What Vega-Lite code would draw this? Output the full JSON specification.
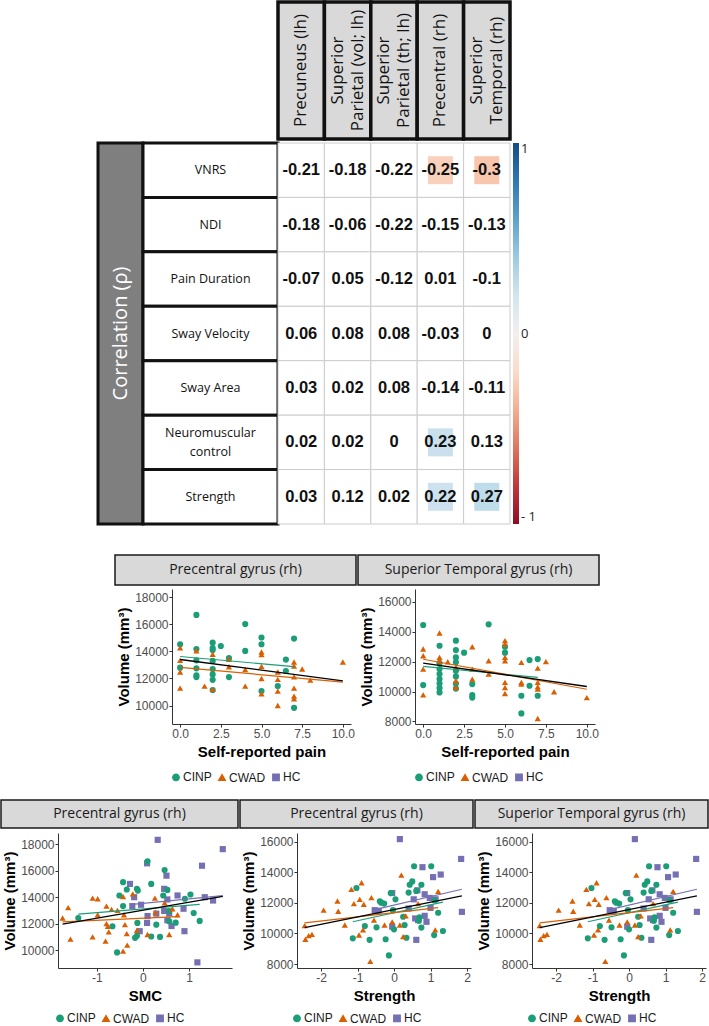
{
  "$schema": "https://vega.github.io/schema/vega-lite/v6.json",
  "padding": 0,
  "background": "white",
  "config": {
    "view": {"stroke": null},
    "locale": {"number": {"decimal": ".", "thousands": ",", "grouping": [3], "currency": ["$", ""], "minus": "-"}},
    "axis": {"labelFont": "Liberation Sans", "labelFontSize": 12, "labelColor": "#4d4d4d", "titleFont": "Liberation Sans", "titleFontSize": 15, "titleFontWeight": "bold", "titleColor": "#000000", "domainColor": "#333333", "tickColor": "#333333", "tickSize": 3, "labelPadding": 1, "grid": false},
    "axisX": {"titlePadding": 5},
    "axisY": {"titlePadding": 3},
    "legend": {"layout": {"bottom": {"anchor": "middle"}}}
  },
  "datasets": {
    "corr": [
      {"row": "VNRS", "col": "Precuneus (lh)", "r": -0.21, "sig": false},
      {"row": "VNRS", "col": "Superior\nParietal (vol; lh)", "r": -0.18, "sig": false},
      {"row": "VNRS", "col": "Superior\nParietal (th; lh)", "r": -0.22, "sig": false},
      {"row": "VNRS", "col": "Precentral (rh)", "r": -0.25, "sig": true},
      {"row": "VNRS", "col": "Superior\nTemporal (rh)", "r": -0.3, "sig": true},
      {"row": "NDI", "col": "Precuneus (lh)", "r": -0.18, "sig": false},
      {"row": "NDI", "col": "Superior\nParietal (vol; lh)", "r": -0.06, "sig": false},
      {"row": "NDI", "col": "Superior\nParietal (th; lh)", "r": -0.22, "sig": false},
      {"row": "NDI", "col": "Precentral (rh)", "r": -0.15, "sig": false},
      {"row": "NDI", "col": "Superior\nTemporal (rh)", "r": -0.13, "sig": false},
      {"row": "Pain Duration", "col": "Precuneus (lh)", "r": -0.07, "sig": false},
      {"row": "Pain Duration", "col": "Superior\nParietal (vol; lh)", "r": 0.05, "sig": false},
      {"row": "Pain Duration", "col": "Superior\nParietal (th; lh)", "r": -0.12, "sig": false},
      {"row": "Pain Duration", "col": "Precentral (rh)", "r": 0.01, "sig": false},
      {"row": "Pain Duration", "col": "Superior\nTemporal (rh)", "r": -0.1, "sig": false},
      {"row": "Sway Velocity", "col": "Precuneus (lh)", "r": 0.06, "sig": false},
      {"row": "Sway Velocity", "col": "Superior\nParietal (vol; lh)", "r": 0.08, "sig": false},
      {"row": "Sway Velocity", "col": "Superior\nParietal (th; lh)", "r": 0.08, "sig": false},
      {"row": "Sway Velocity", "col": "Precentral (rh)", "r": -0.03, "sig": false},
      {"row": "Sway Velocity", "col": "Superior\nTemporal (rh)", "r": 0, "sig": false},
      {"row": "Sway Area", "col": "Precuneus (lh)", "r": 0.03, "sig": false},
      {"row": "Sway Area", "col": "Superior\nParietal (vol; lh)", "r": 0.02, "sig": false},
      {"row": "Sway Area", "col": "Superior\nParietal (th; lh)", "r": 0.08, "sig": false},
      {"row": "Sway Area", "col": "Precentral (rh)", "r": -0.14, "sig": false},
      {"row": "Sway Area", "col": "Superior\nTemporal (rh)", "r": -0.11, "sig": false},
      {"row": "Neuromuscular\ncontrol", "col": "Precuneus (lh)", "r": 0.02, "sig": false},
      {"row": "Neuromuscular\ncontrol", "col": "Superior\nParietal (vol; lh)", "r": 0.02, "sig": false},
      {"row": "Neuromuscular\ncontrol", "col": "Superior\nParietal (th; lh)", "r": 0, "sig": false},
      {"row": "Neuromuscular\ncontrol", "col": "Precentral (rh)", "r": 0.23, "sig": true},
      {"row": "Neuromuscular\ncontrol", "col": "Superior\nTemporal (rh)", "r": 0.13, "sig": false},
      {"row": "Strength", "col": "Precuneus (lh)", "r": 0.03, "sig": false},
      {"row": "Strength", "col": "Superior\nParietal (vol; lh)", "r": 0.12, "sig": false},
      {"row": "Strength", "col": "Superior\nParietal (th; lh)", "r": 0.02, "sig": false},
      {"row": "Strength", "col": "Precentral (rh)", "r": 0.22, "sig": true},
      {"row": "Strength", "col": "Superior\nTemporal (rh)", "r": 0.27, "sig": true}
    ],
    "cols": [
      {"col": "Precuneus (lh)"},
      {"col": "Superior\nParietal (vol; lh)"},
      {"col": "Superior\nParietal (th; lh)"},
      {"col": "Precentral (rh)"},
      {"col": "Superior\nTemporal (rh)"}
    ],
    "rows": [
      {"row": "VNRS"}, {"row": "NDI"}, {"row": "Pain Duration"}, {"row": "Sway Velocity"},
      {"row": "Sway Area"}, {"row": "Neuromuscular\ncontrol"}, {"row": "Strength"}
    ],
    "pain_pre": [
      {"group": "CINP", "score": 1, "volume": 16700}, {"group": "CINP", "score": 0, "volume": 14530}, {"group": "CINP", "score": 0, "volume": 12800},
      {"group": "CINP", "score": 1, "volume": 14180}, {"group": "CINP", "score": 1, "volume": 13340}, {"group": "CINP", "score": 1, "volume": 12750},
      {"group": "CINP", "score": 1, "volume": 12230}, {"group": "CINP", "score": 1, "volume": 12100}, {"group": "CINP", "score": 2, "volume": 14650},
      {"group": "CINP", "score": 2, "volume": 14250}, {"group": "CINP", "score": 2, "volume": 14100}, {"group": "CINP", "score": 2, "volume": 13300},
      {"group": "CINP", "score": 2, "volume": 12700}, {"group": "CINP", "score": 2, "volume": 12300}, {"group": "CINP", "score": 2, "volume": 11900},
      {"group": "CINP", "score": 2, "volume": 11150}, {"group": "CINP", "score": 2.5, "volume": 14400}, {"group": "CINP", "score": 3, "volume": 13500},
      {"group": "CINP", "score": 3, "volume": 12100}, {"group": "CINP", "score": 4, "volume": 16020}, {"group": "CINP", "score": 4, "volume": 14040},
      {"group": "CINP", "score": 5, "volume": 15030}, {"group": "CINP", "score": 5, "volume": 14530}, {"group": "CINP", "score": 5, "volume": 11070},
      {"group": "CINP", "score": 6, "volume": 11440}, {"group": "CINP", "score": 6.5, "volume": 13400}, {"group": "CINP", "score": 6.5, "volume": 12550},
      {"group": "CINP", "score": 7, "volume": 14950}, {"group": "CINP", "score": 7, "volume": 9830},
      {"group": "CWAD", "score": 0, "volume": 14260}, {"group": "CWAD", "score": 0, "volume": 13340}, {"group": "CWAD", "score": 0, "volume": 12480},
      {"group": "CWAD", "score": 0, "volume": 11290}, {"group": "CWAD", "score": 1, "volume": 14050}, {"group": "CWAD", "score": 1.5, "volume": 11440},
      {"group": "CWAD", "score": 2, "volume": 13790}, {"group": "CWAD", "score": 2, "volume": 11190}, {"group": "CWAD", "score": 3, "volume": 13420},
      {"group": "CWAD", "score": 3, "volume": 12870}, {"group": "CWAD", "score": 4, "volume": 12650}, {"group": "CWAD", "score": 4, "volume": 11440},
      {"group": "CWAD", "score": 5, "volume": 13960}, {"group": "CWAD", "score": 5, "volume": 13770}, {"group": "CWAD", "score": 5, "volume": 12900},
      {"group": "CWAD", "score": 5, "volume": 12000}, {"group": "CWAD", "score": 5, "volume": 10870}, {"group": "CWAD", "score": 6, "volume": 12480},
      {"group": "CWAD", "score": 6, "volume": 11930}, {"group": "CWAD", "score": 6, "volume": 11070}, {"group": "CWAD", "score": 6, "volume": 10000},
      {"group": "CWAD", "score": 7, "volume": 13220}, {"group": "CWAD", "score": 7, "volume": 12920}, {"group": "CWAD", "score": 7, "volume": 12130},
      {"group": "CWAD", "score": 7, "volume": 11290}, {"group": "CWAD", "score": 7, "volume": 10700}, {"group": "CWAD", "score": 7, "volume": 10500},
      {"group": "CWAD", "score": 7.5, "volume": 12700}, {"group": "CWAD", "score": 8, "volume": 11880}, {"group": "CWAD", "score": 10, "volume": 13220}
    ],
    "pain_st": [
      {"group": "CINP", "score": 0, "volume": 14445}, {"group": "CINP", "score": 0, "volume": 10430}, {"group": "CINP", "score": 1, "volume": 13060},
      {"group": "CINP", "score": 1, "volume": 11900}, {"group": "CINP", "score": 1, "volume": 11500}, {"group": "CINP", "score": 1, "volume": 11170},
      {"group": "CINP", "score": 1, "volume": 10840}, {"group": "CINP", "score": 1, "volume": 10540}, {"group": "CINP", "score": 1, "volume": 10230},
      {"group": "CINP", "score": 1, "volume": 9940}, {"group": "CINP", "score": 2, "volume": 13400}, {"group": "CINP", "score": 2, "volume": 12770},
      {"group": "CINP", "score": 2, "volume": 12280}, {"group": "CINP", "score": 2, "volume": 11950}, {"group": "CINP", "score": 2, "volume": 11390},
      {"group": "CINP", "score": 2, "volume": 11010}, {"group": "CINP", "score": 2, "volume": 10540}, {"group": "CINP", "score": 2, "volume": 10200},
      {"group": "CINP", "score": 2.5, "volume": 12600}, {"group": "CINP", "score": 3, "volume": 10500}, {"group": "CINP", "score": 3, "volume": 9760},
      {"group": "CINP", "score": 3, "volume": 9600}, {"group": "CINP", "score": 4, "volume": 14490}, {"group": "CINP", "score": 5, "volume": 13000},
      {"group": "CINP", "score": 5, "volume": 12600}, {"group": "CINP", "score": 6, "volume": 9720}, {"group": "CINP", "score": 6, "volume": 8540},
      {"group": "CINP", "score": 6.5, "volume": 12100}, {"group": "CINP", "score": 6.5, "volume": 10390}, {"group": "CINP", "score": 7, "volume": 12170},
      {"group": "CINP", "score": 7, "volume": 9720},
      {"group": "CWAD", "score": 0, "volume": 12840}, {"group": "CWAD", "score": 0, "volume": 12390}, {"group": "CWAD", "score": 0, "volume": 11500},
      {"group": "CWAD", "score": 0, "volume": 9780}, {"group": "CWAD", "score": 1, "volume": 13910}, {"group": "CWAD", "score": 1, "volume": 12280},
      {"group": "CWAD", "score": 1, "volume": 12060}, {"group": "CWAD", "score": 1.5, "volume": 11990}, {"group": "CWAD", "score": 2, "volume": 11610},
      {"group": "CWAD", "score": 2, "volume": 10720}, {"group": "CWAD", "score": 2, "volume": 10270}, {"group": "CWAD", "score": 3, "volume": 12990},
      {"group": "CWAD", "score": 3, "volume": 11500}, {"group": "CWAD", "score": 3, "volume": 10830}, {"group": "CWAD", "score": 4, "volume": 12060},
      {"group": "CWAD", "score": 4, "volume": 11170}, {"group": "CWAD", "score": 5, "volume": 13400}, {"group": "CWAD", "score": 5, "volume": 13170},
      {"group": "CWAD", "score": 5, "volume": 12280}, {"group": "CWAD", "score": 5, "volume": 12060}, {"group": "CWAD", "score": 5, "volume": 10610},
      {"group": "CWAD", "score": 5, "volume": 10270}, {"group": "CWAD", "score": 5, "volume": 9870}, {"group": "CWAD", "score": 6, "volume": 11950},
      {"group": "CWAD", "score": 6, "volume": 10610}, {"group": "CWAD", "score": 6, "volume": 10500}, {"group": "CWAD", "score": 7, "volume": 11570},
      {"group": "CWAD", "score": 7, "volume": 10610}, {"group": "CWAD", "score": 7, "volume": 10320}, {"group": "CWAD", "score": 7, "volume": 10160},
      {"group": "CWAD", "score": 7, "volume": 8200}, {"group": "CWAD", "score": 7.5, "volume": 12000}, {"group": "CWAD", "score": 8, "volume": 9990},
      {"group": "CWAD", "score": 10, "volume": 9600}
    ],
    "smc_pre": [
      {"group": "HC", "score": 0.32, "volume": 18330}, {"group": "HC", "score": 1.73, "volume": 17630}, {"group": "HC", "score": 0.09, "volume": 16560},
      {"group": "HC", "score": 0.51, "volume": 15630}, {"group": "HC", "score": 1.28, "volume": 16380}, {"group": "HC", "score": -0.28, "volume": 15010},
      {"group": "HC", "score": -0.19, "volume": 14010}, {"group": "HC", "score": 0.46, "volume": 14640}, {"group": "HC", "score": 0.53, "volume": 13840},
      {"group": "HC", "score": 0.75, "volume": 14140}, {"group": "HC", "score": 1.34, "volume": 14010}, {"group": "HC", "score": 1.52, "volume": 13760},
      {"group": "HC", "score": -0.23, "volume": 13340}, {"group": "HC", "score": -0.04, "volume": 13440}, {"group": "HC", "score": 0.1, "volume": 12590},
      {"group": "HC", "score": 0.09, "volume": 12070}, {"group": "HC", "score": 0.29, "volume": 12770}, {"group": "HC", "score": 0.46, "volume": 12970},
      {"group": "HC", "score": 0.57, "volume": 12770}, {"group": "HC", "score": 0.53, "volume": 12270}, {"group": "HC", "score": 0.62, "volume": 11840},
      {"group": "HC", "score": 0.88, "volume": 13140}, {"group": "HC", "score": 0.9, "volume": 11450}, {"group": "HC", "score": -0.07, "volume": 11450},
      {"group": "HC", "score": 1.18, "volume": 9100},
      {"group": "CINP", "score": -1.4, "volume": 12440}, {"group": "CINP", "score": -0.66, "volume": 11820}, {"group": "CINP", "score": -0.56, "volume": 9850},
      {"group": "CINP", "score": -0.43, "volume": 15140}, {"group": "CINP", "score": -0.35, "volume": 14590}, {"group": "CINP", "score": -0.51, "volume": 14140},
      {"group": "CINP", "score": -0.43, "volume": 13340}, {"group": "CINP", "score": -0.13, "volume": 14640}, {"group": "CINP", "score": -0.11, "volume": 14510},
      {"group": "CINP", "score": -0.17, "volume": 10950}, {"group": "CINP", "score": -0.13, "volume": 11100}, {"group": "CINP", "score": 0.1, "volume": 16710},
      {"group": "CINP", "score": 0.18, "volume": 15010}, {"group": "CINP", "score": -0.12, "volume": 12070}, {"group": "CINP", "score": 0.18, "volume": 11050},
      {"group": "CINP", "score": 0.29, "volume": 11940}, {"group": "CINP", "score": 0.37, "volume": 11020}, {"group": "CINP", "score": 0.47, "volume": 16060},
      {"group": "CINP", "score": 0.53, "volume": 14560}, {"group": "CINP", "score": 0.44, "volume": 14140}, {"group": "CINP", "score": 0.57, "volume": 12970},
      {"group": "CINP", "score": 0.57, "volume": 12190}, {"group": "CINP", "score": 0.71, "volume": 12090}, {"group": "CINP", "score": 0.91, "volume": 13890},
      {"group": "CINP", "score": 1.03, "volume": 14210}, {"group": "CINP", "score": 1.1, "volume": 12820}, {"group": "CINP", "score": 1.23, "volume": 12220},
      {"group": "CWAD", "score": -1.74, "volume": 12440}, {"group": "CWAD", "score": -1.62, "volume": 13220}, {"group": "CWAD", "score": -1.57, "volume": 10850},
      {"group": "CWAD", "score": -1.09, "volume": 13940}, {"group": "CWAD", "score": -0.98, "volume": 13890}, {"group": "CWAD", "score": -1.09, "volume": 11020},
      {"group": "CWAD", "score": -0.98, "volume": 12690}, {"group": "CWAD", "score": -0.81, "volume": 10700}, {"group": "CWAD", "score": -0.79, "volume": 13340},
      {"group": "CWAD", "score": -0.68, "volume": 13090}, {"group": "CWAD", "score": -0.79, "volume": 12020}, {"group": "CWAD", "score": -0.76, "volume": 11820},
      {"group": "CWAD", "score": -0.74, "volume": 11400}, {"group": "CWAD", "score": -0.55, "volume": 13020}, {"group": "CWAD", "score": -0.43, "volume": 14060},
      {"group": "CWAD", "score": -0.41, "volume": 12690}, {"group": "CWAD", "score": -0.39, "volume": 11940}, {"group": "CWAD", "score": -0.35, "volume": 11270},
      {"group": "CWAD", "score": -0.34, "volume": 10400}, {"group": "CWAD", "score": -0.43, "volume": 9950}, {"group": "CWAD", "score": -0.22, "volume": 14260},
      {"group": "CWAD", "score": -0.13, "volume": 11520}, {"group": "CWAD", "score": 0.1, "volume": 11200}, {"group": "CWAD", "score": 0.26, "volume": 13940},
      {"group": "CWAD", "score": 0.27, "volume": 12890}, {"group": "CWAD", "score": 0.47, "volume": 13590}, {"group": "CWAD", "score": 0.57, "volume": 11200},
      {"group": "CWAD", "score": 0.64, "volume": 13140}, {"group": "CWAD", "score": 0.75, "volume": 12690}
    ],
    "str_st": [
      {"group": "HC", "score": 0.16, "volume": 16165}, {"group": "HC", "score": 1.84, "volume": 14870}, {"group": "HC", "score": 0.78, "volume": 14330},
      {"group": "HC", "score": 1.28, "volume": 13850}, {"group": "HC", "score": 1.07, "volume": 13680}, {"group": "HC", "score": 0.64, "volume": 12820},
      {"group": "HC", "score": -0.05, "volume": 12640}, {"group": "HC", "score": 0.84, "volume": 12560}, {"group": "HC", "score": 0.98, "volume": 12320},
      {"group": "HC", "score": 0.54, "volume": 12230}, {"group": "HC", "score": 1.14, "volume": 12230}, {"group": "HC", "score": -0.53, "volume": 11520},
      {"group": "HC", "score": -0.42, "volume": 11480}, {"group": "HC", "score": 0.4, "volume": 11630}, {"group": "HC", "score": 1.0, "volume": 11670},
      {"group": "HC", "score": 1.86, "volume": 11410}, {"group": "HC", "score": -0.05, "volume": 10440}, {"group": "HC", "score": 0.58, "volume": 10980},
      {"group": "HC", "score": 0.84, "volume": 11150}, {"group": "HC", "score": 0.89, "volume": 10760}, {"group": "HC", "score": 0.66, "volume": 10870},
      {"group": "HC", "score": 0.61, "volume": 9580},
      {"group": "CINP", "score": -1.03, "volume": 12970}, {"group": "CINP", "score": -1.13, "volume": 9680}, {"group": "CINP", "score": -0.8, "volume": 10480},
      {"group": "CINP", "score": -0.67, "volume": 9580}, {"group": "CINP", "score": -0.48, "volume": 10400}, {"group": "CINP", "score": -0.39, "volume": 12100},
      {"group": "CINP", "score": -0.35, "volume": 12010}, {"group": "CINP", "score": -0.27, "volume": 11950}, {"group": "CINP", "score": -0.23, "volume": 9620},
      {"group": "CINP", "score": -0.14, "volume": 8560}, {"group": "CINP", "score": -0.09, "volume": 12640}, {"group": "CINP", "score": -0.03, "volume": 11520},
      {"group": "CINP", "score": 0.04, "volume": 12230}, {"group": "CINP", "score": 0.0, "volume": 10270}, {"group": "CINP", "score": 0.25, "volume": 11090},
      {"group": "CINP", "score": 0.29, "volume": 10550}, {"group": "CINP", "score": 0.34, "volume": 9720}, {"group": "CINP", "score": 0.4, "volume": 12670},
      {"group": "CINP", "score": 0.43, "volume": 13180}, {"group": "CINP", "score": 0.5, "volume": 13400}, {"group": "CINP", "score": 0.55, "volume": 14390},
      {"group": "CINP", "score": 0.61, "volume": 12780}, {"group": "CINP", "score": 0.7, "volume": 11060}, {"group": "CINP", "score": 0.68, "volume": 10830},
      {"group": "CINP", "score": 0.75, "volume": 10380}, {"group": "CINP", "score": 0.75, "volume": 13180}, {"group": "CINP", "score": 1.02, "volume": 14390},
      {"group": "CINP", "score": 1.11, "volume": 12170}, {"group": "CINP", "score": 1.21, "volume": 11350}, {"group": "CINP", "score": 1.1, "volume": 9890},
      {"group": "CINP", "score": 1.34, "volume": 10160},
      {"group": "CWAD", "score": -2.45, "volume": 10510}, {"group": "CWAD", "score": -2.43, "volume": 9620}, {"group": "CWAD", "score": -2.34, "volume": 9860},
      {"group": "CWAD", "score": -2.25, "volume": 9940}, {"group": "CWAD", "score": -1.93, "volume": 11520}, {"group": "CWAD", "score": -1.55, "volume": 12120},
      {"group": "CWAD", "score": -1.53, "volume": 11450}, {"group": "CWAD", "score": -1.35, "volume": 10550}, {"group": "CWAD", "score": -1.17, "volume": 12880},
      {"group": "CWAD", "score": -1.1, "volume": 11950}, {"group": "CWAD", "score": -0.94, "volume": 12230}, {"group": "CWAD", "score": -0.89, "volume": 13310},
      {"group": "CWAD", "score": -0.83, "volume": 11910}, {"group": "CWAD", "score": -0.96, "volume": 9900}, {"group": "CWAD", "score": -0.85, "volume": 10230},
      {"group": "CWAD", "score": -0.62, "volume": 12340}, {"group": "CWAD", "score": -0.65, "volume": 8170}, {"group": "CWAD", "score": -0.55, "volume": 10870},
      {"group": "CWAD", "score": -0.26, "volume": 10550}, {"group": "CWAD", "score": -0.05, "volume": 10760}, {"group": "CWAD", "score": 0.16, "volume": 10550},
      {"group": "CWAD", "score": 0.2, "volume": 13810}, {"group": "CWAD", "score": 0.25, "volume": 9790}, {"group": "CWAD", "score": 0.32, "volume": 11150},
      {"group": "CWAD", "score": 0.66, "volume": 11950}, {"group": "CWAD", "score": 1.21, "volume": 12750}, {"group": "CWAD", "score": 1.13, "volume": 10230}
    ]
  },
  "resolve": {"scale": {"color": "independent", "shape": "independent", "stroke": "independent"}, "legend": {"color": "independent", "shape": "independent"}},
  "spacing": 28,
  "vconcat": [
    {
      "spacing": 0,
      "resolve": {"scale": {"color": "independent"}, "legend": {"color": "independent"}},
      "vconcat": [
        {
          "spacing": 0,
          "bounds": "flush",
          "hconcat": [
            {"width": 277, "height": 10, "data": {"values": []}, "mark": {"type": "rect", "opacity": 0}, "encoding": {}},
            {
              "width": 232, "height": 137,
              "data": {"name": "cols"},
              "encoding": {"x": {"field": "col", "type": "nominal", "sort": null, "scale": {"paddingInner": 0, "paddingOuter": 0}, "axis": null}},
              "layer": [
                {"mark": {"type": "rect", "fill": "#d9d9d9", "stroke": "#111111", "strokeWidth": 3.5}},
                {"transform": [{"filter": "indexof(datum.col, '\\n') < 0"}], "mark": {"type": "text", "angle": 270, "font": "Open Sans", "fontSize": 17, "color": "#111111", "align": "center", "baseline": "middle"}, "encoding": {"text": {"field": "col"}}},
                {"transform": [{"filter": "indexof(datum.col, '\\n') >= 0"}], "mark": {"type": "text", "angle": 270, "font": "Open Sans", "fontSize": 17, "color": "#111111", "lineBreak": "\n", "lineHeight": 20, "align": "center", "baseline": "middle", "dy": -10}, "encoding": {"text": {"field": "col"}}}
              ]
            }
          ]
        },
        {
          "spacing": 0,
          "bounds": "flush",
          "resolve": {"scale": {"color": "independent"}, "legend": {"color": "independent"}},
          "hconcat": [
            {"width": 97, "height": 10, "data": {"values": []}, "mark": {"type": "rect", "opacity": 0}, "encoding": {}},
            {
              "width": 45, "height": 381,
              "data": {"values": [{"label": "Correlation (ρ)"}]},
              "layer": [
                {"mark": {"type": "rect", "fill": "#7f7f7f", "stroke": "#111111", "strokeWidth": 3}, "encoding": {}},
                {"mark": {"type": "text", "angle": 270, "font": "Open Sans", "fontSize": 20, "color": "white", "align": "center", "baseline": "middle"}, "encoding": {"text": {"field": "label"}}}
              ]
            },
            {
              "width": 135, "height": 381,
              "data": {"name": "rows"},
              "encoding": {"y": {"field": "row", "type": "nominal", "sort": null, "scale": {"paddingInner": 0, "paddingOuter": 0}, "axis": null}},
              "layer": [
                {"mark": {"type": "rect", "fill": "white", "stroke": "#111111", "strokeWidth": 3}},
                {"transform": [{"filter": "indexof(datum.row, '\\n') < 0"}], "mark": {"type": "text", "font": "Open Sans", "fontSize": 12.5, "color": "#111111", "align": "center", "baseline": "middle"}, "encoding": {"text": {"field": "row"}}},
                {"transform": [{"filter": "indexof(datum.row, '\\n') >= 0"}], "mark": {"type": "text", "font": "Open Sans", "fontSize": 12.5, "color": "#111111", "lineBreak": "\n", "lineHeight": 19, "align": "center", "baseline": "middle", "dy": -9.5}, "encoding": {"text": {"field": "row"}}}
              ]
            },
            {
              "width": 232, "height": 381,
              "data": {"name": "corr"},
              "encoding": {
                "x": {"field": "col", "type": "nominal", "sort": null, "scale": {"paddingInner": 0, "paddingOuter": 0}, "axis": null},
                "y": {"field": "row", "type": "nominal", "sort": null, "scale": {"paddingInner": 0, "paddingOuter": 0}, "axis": null}
              },
              "layer": [
                {"mark": {"type": "rect", "fill": "white", "stroke": "#cccccc", "strokeWidth": 1}},
                {
                  "transform": [{"filter": "datum.sig"}],
                  "mark": {"type": "rect", "width": 25, "height": 28},
                  "encoding": {
                    "color": {
                      "field": "r", "type": "quantitative",
                      "scale": {"scheme": "redblue", "domain": [-1, 1]},
                      "legend": {"orient": "right", "direction": "vertical", "title": null, "gradientLength": 381, "gradientThickness": 6, "values": [-1, 0, 1], "labelExpr": "datum.value < 0 ? '- 1' : (datum.value > 0 ? '1' : '0')", "labelFont": "Open Sans", "labelFontSize": 13, "labelColor": "#222222", "offset": 3, "padding": 0, "gradientStrokeWidth": 0}
                    }
                  }
                },
                {"mark": {"type": "text", "font": "Liberation Sans", "fontSize": 16.5, "fontWeight": "bold", "color": "#111111"}, "encoding": {"text": {"field": "r", "type": "quantitative", "format": ".2~f"}}}
              ]
            }
          ]
        }
      ]
    },
    {
      "spacing": 15,
      "resolve": {"scale": {"color": "independent", "shape": "independent", "stroke": "independent"}, "legend": {"color": "independent", "shape": "independent"}},
      "vconcat": [
        {
          "spacing": 0,
          "resolve": {"scale": {"color": "independent", "shape": "independent", "stroke": "independent"}, "legend": {"color": "independent", "shape": "independent"}},
          "hconcat": [
            {"width": 113, "height": 10, "data": {"values": []}, "mark": {"type": "rect", "opacity": 0}, "encoding": {}},
            {
              "spacing": 3,
              "vconcat": [
                {"width": 241, "height": 30, "data": {"values": [{"panel": "Precentral gyrus (rh)"}]}, "layer": [
                  {"mark": {"type": "rect", "fill": "#d9d9d9", "stroke": "#1a1a1a", "strokeWidth": 1.5}, "encoding": {}},
                  {"mark": {"type": "text", "font": "Open Sans", "fontSize": 14, "color": "#1a1a1a"}, "encoding": {"text": {"field": "panel"}}}
                ]},
                {"spacing": 0, "hconcat": [
                  {"width": 1, "height": 1, "data": {"values": []}, "mark": {"type": "rect", "opacity": 0}, "encoding": {}},
                  {
                    "width": 179, "height": 135,
                    "data": {"name": "pain_pre"},
                    "encoding": {
                      "x": {"field": "score", "type": "quantitative", "title": "Self-reported pain", "scale": {"domain": [-0.5, 10.5], "nice": false, "zero": false}, "axis": {"values": [0, 2.5, 5, 7.5, 10], "format": ".1f"}},
                      "y": {"field": "volume", "type": "quantitative", "title": "Volume (mm³)", "scale": {"domain": [8633, 18617], "nice": false, "zero": false}, "axis": {"values": [10000, 12000, 14000, 16000, 18000], "format": "d"}}
                    },
                    "layer": [
                      {"mark": {"type": "point", "filled": true, "opacity": 1, "size": 38}, "encoding": {
                        "color": {"field": "group", "type": "nominal", "scale": {"domain": ["CINP", "CWAD", "HC"], "range": ["#1b9e77", "#d95f02", "#7570b3"]}, "legend": {"orient": "bottom", "direction": "horizontal", "title": null, "labelFont": "Liberation Sans", "labelFontSize": 12, "labelColor": "#1a1a1a", "symbolSize": 40, "columnPadding": 3, "labelOffset": 1, "offset": 12, "padding": 0}},
                        "shape": {"field": "group", "type": "nominal", "scale": {"domain": ["CINP", "CWAD", "HC"], "range": ["circle", "triangle-up", "square"]}, "legend": {"orient": "bottom", "direction": "horizontal", "title": null, "labelFont": "Liberation Sans", "labelFontSize": 12, "labelColor": "#1a1a1a", "symbolSize": 40, "columnPadding": 3, "labelOffset": 1, "offset": 12, "padding": 0}}
                      }},
                      {"transform": [{"regression": "volume", "on": "score", "groupby": ["group"]}], "mark": {"type": "line", "strokeWidth": 1.2}, "encoding": {
                        "stroke": {"field": "group", "type": "nominal", "scale": {"domain": ["CINP", "CWAD", "HC"], "range": ["#1b9e77", "#d95f02", "#7570b3"]}, "legend": null}
                      }},
                      {"transform": [{"regression": "volume", "on": "score"}], "mark": {"type": "line", "strokeWidth": 1.3, "color": "black"}, "encoding": {}}
                    ]
                  }
                ]}
              ]
            },
            {
              "spacing": 3,
              "vconcat": [
                {"width": 241, "height": 30, "data": {"values": [{"panel": "Superior Temporal gyrus (rh)"}]}, "layer": [
                  {"mark": {"type": "rect", "fill": "#d9d9d9", "stroke": "#1a1a1a", "strokeWidth": 1.5}, "encoding": {}},
                  {"mark": {"type": "text", "font": "Open Sans", "fontSize": 14, "color": "#1a1a1a"}, "encoding": {"text": {"field": "panel"}}}
                ]},
                {"spacing": 0, "hconcat": [
                  {"width": 1, "height": 1, "data": {"values": []}, "mark": {"type": "rect", "opacity": 0}, "encoding": {}},
                  {
                    "width": 180, "height": 135,
                    "data": {"name": "pain_st"},
                    "encoding": {
                      "x": {"field": "score", "type": "quantitative", "title": "Self-reported pain", "scale": {"domain": [-0.5, 10.5], "nice": false, "zero": false}, "axis": {"values": [0, 2.5, 5, 7.5, 10], "format": ".1f"}},
                      "y": {"field": "volume", "type": "quantitative", "title": "Volume (mm³)", "scale": {"domain": [7833, 16850], "nice": false, "zero": false}, "axis": {"values": [8000, 10000, 12000, 14000, 16000], "format": "d"}}
                    },
                    "layer": [
                      {"mark": {"type": "point", "filled": true, "opacity": 1, "size": 38}, "encoding": {
                        "color": {"field": "group", "type": "nominal", "scale": {"domain": ["CINP", "CWAD", "HC"], "range": ["#1b9e77", "#d95f02", "#7570b3"]}, "legend": {"orient": "bottom", "direction": "horizontal", "title": null, "labelFont": "Liberation Sans", "labelFontSize": 12, "labelColor": "#1a1a1a", "symbolSize": 40, "columnPadding": 3, "labelOffset": 1, "offset": 12, "padding": 0}},
                        "shape": {"field": "group", "type": "nominal", "scale": {"domain": ["CINP", "CWAD", "HC"], "range": ["circle", "triangle-up", "square"]}, "legend": {"orient": "bottom", "direction": "horizontal", "title": null, "labelFont": "Liberation Sans", "labelFontSize": 12, "labelColor": "#1a1a1a", "symbolSize": 40, "columnPadding": 3, "labelOffset": 1, "offset": 12, "padding": 0}}
                      }},
                      {"transform": [{"regression": "volume", "on": "score", "groupby": ["group"]}], "mark": {"type": "line", "strokeWidth": 1.2}, "encoding": {
                        "stroke": {"field": "group", "type": "nominal", "scale": {"domain": ["CINP", "CWAD", "HC"], "range": ["#1b9e77", "#d95f02", "#7570b3"]}, "legend": null}
                      }},
                      {"transform": [{"regression": "volume", "on": "score"}], "mark": {"type": "line", "strokeWidth": 1.3, "color": "black"}, "encoding": {}}
                    ]
                  }
                ]}
              ]
            }
          ]
        },
        {
          "spacing": 0,
          "resolve": {"scale": {"color": "independent", "shape": "independent", "stroke": "independent"}, "legend": {"color": "independent", "shape": "independent"}},
          "hconcat": [
            {
              "spacing": 4,
              "vconcat": [
                {"width": 237, "height": 28, "data": {"values": [{"panel": "Precentral gyrus (rh)"}]}, "layer": [
                  {"mark": {"type": "rect", "fill": "#d9d9d9", "stroke": "#1a1a1a", "strokeWidth": 1.5}, "encoding": {}},
                  {"mark": {"type": "text", "font": "Open Sans", "fontSize": 14, "color": "#1a1a1a"}, "encoding": {"text": {"field": "panel"}}}
                ]},
                {"spacing": 0, "hconcat": [
                  {"width": 1, "height": 1, "data": {"values": []}, "mark": {"type": "rect", "opacity": 0}, "encoding": {}},
                  {
                    "width": 174, "height": 135,
                    "data": {"name": "smc_pre"},
                    "encoding": {
                      "x": {"field": "score", "type": "quantitative", "title": "SMC", "scale": {"domain": [-1.84, 1.93], "nice": false, "zero": false}, "axis": {"values": [-1, 0, 1], "format": "d"}},
                      "y": {"field": "volume", "type": "quantitative", "title": "Volume (mm³)", "scale": {"domain": [8676, 18845], "nice": false, "zero": false}, "axis": {"values": [10000, 12000, 14000, 16000, 18000], "format": "d"}}
                    },
                    "layer": [
                      {"mark": {"type": "point", "filled": true, "opacity": 1, "size": 38}, "encoding": {
                        "color": {"field": "group", "type": "nominal", "scale": {"domain": ["CINP", "CWAD", "HC"], "range": ["#1b9e77", "#d95f02", "#7570b3"]}, "legend": {"orient": "bottom", "direction": "horizontal", "title": null, "labelFont": "Liberation Sans", "labelFontSize": 12, "labelColor": "#1a1a1a", "symbolSize": 40, "columnPadding": 3, "labelOffset": 1, "offset": 9, "padding": 0}},
                        "shape": {"field": "group", "type": "nominal", "scale": {"domain": ["CINP", "CWAD", "HC"], "range": ["circle", "triangle-up", "square"]}, "legend": {"orient": "bottom", "direction": "horizontal", "title": null, "labelFont": "Liberation Sans", "labelFontSize": 12, "labelColor": "#1a1a1a", "symbolSize": 40, "columnPadding": 3, "labelOffset": 1, "offset": 9, "padding": 0}}
                      }},
                      {"transform": [{"regression": "volume", "on": "score", "groupby": ["group"]}], "mark": {"type": "line", "strokeWidth": 1.2}, "encoding": {
                        "stroke": {"field": "group", "type": "nominal", "scale": {"domain": ["CINP", "CWAD", "HC"], "range": ["#1b9e77", "#d95f02", "#7570b3"]}, "legend": null}
                      }},
                      {"transform": [{"regression": "volume", "on": "score"}], "mark": {"type": "line", "strokeWidth": 1.3, "color": "black"}, "encoding": {}}
                    ]
                  }
                ]}
              ]
            },
            {
              "spacing": 4,
              "vconcat": [
                {"width": 233, "height": 28, "data": {"values": [{"panel": "Precentral gyrus (rh)"}]}, "layer": [
                  {"mark": {"type": "rect", "fill": "#d9d9d9", "stroke": "#1a1a1a", "strokeWidth": 1.5}, "encoding": {}},
                  {"mark": {"type": "text", "font": "Open Sans", "fontSize": 14, "color": "#1a1a1a"}, "encoding": {"text": {"field": "panel"}}}
                ]},
                {"spacing": 0, "hconcat": [
                  {"width": 1, "height": 1, "data": {"values": []}, "mark": {"type": "rect", "opacity": 0}, "encoding": {}},
                  {
                    "width": 174, "height": 135,
                    "data": {"name": "str_st"},
                    "encoding": {
                      "x": {"field": "score", "type": "quantitative", "title": "Strength", "scale": {"domain": [-2.66, 2.11], "nice": false, "zero": false}, "axis": {"values": [-2, -1, 0, 1, 2], "format": "d"}},
                      "y": {"field": "volume", "type": "quantitative", "title": "Volume (mm³)", "scale": {"domain": [7740, 16565], "nice": false, "zero": false}, "axis": {"values": [8000, 10000, 12000, 14000, 16000], "format": "d"}}
                    },
                    "layer": [
                      {"mark": {"type": "point", "filled": true, "opacity": 1, "size": 38}, "encoding": {
                        "color": {"field": "group", "type": "nominal", "scale": {"domain": ["CINP", "CWAD", "HC"], "range": ["#1b9e77", "#d95f02", "#7570b3"]}, "legend": {"orient": "bottom", "direction": "horizontal", "title": null, "labelFont": "Liberation Sans", "labelFontSize": 12, "labelColor": "#1a1a1a", "symbolSize": 40, "columnPadding": 3, "labelOffset": 1, "offset": 9, "padding": 0}},
                        "shape": {"field": "group", "type": "nominal", "scale": {"domain": ["CINP", "CWAD", "HC"], "range": ["circle", "triangle-up", "square"]}, "legend": {"orient": "bottom", "direction": "horizontal", "title": null, "labelFont": "Liberation Sans", "labelFontSize": 12, "labelColor": "#1a1a1a", "symbolSize": 40, "columnPadding": 3, "labelOffset": 1, "offset": 9, "padding": 0}}
                      }},
                      {"transform": [{"regression": "volume", "on": "score", "groupby": ["group"]}], "mark": {"type": "line", "strokeWidth": 1.2}, "encoding": {
                        "stroke": {"field": "group", "type": "nominal", "scale": {"domain": ["CINP", "CWAD", "HC"], "range": ["#1b9e77", "#d95f02", "#7570b3"]}, "legend": null}
                      }},
                      {"transform": [{"regression": "volume", "on": "score"}], "mark": {"type": "line", "strokeWidth": 1.3, "color": "black"}, "encoding": {}}
                    ]
                  }
                ]}
              ]
            },
            {
              "spacing": 4,
              "vconcat": [
                {"width": 233, "height": 28, "data": {"values": [{"panel": "Superior Temporal gyrus (rh)"}]}, "layer": [
                  {"mark": {"type": "rect", "fill": "#d9d9d9", "stroke": "#1a1a1a", "strokeWidth": 1.5}, "encoding": {}},
                  {"mark": {"type": "text", "font": "Open Sans", "fontSize": 14, "color": "#1a1a1a"}, "encoding": {"text": {"field": "panel"}}}
                ]},
                {"spacing": 0, "hconcat": [
                  {"width": 1, "height": 1, "data": {"values": []}, "mark": {"type": "rect", "opacity": 0}, "encoding": {}},
                  {
                    "width": 174, "height": 135,
                    "data": {"name": "str_st"},
                    "encoding": {
                      "x": {"field": "score", "type": "quantitative", "title": "Strength", "scale": {"domain": [-2.66, 2.11], "nice": false, "zero": false}, "axis": {"values": [-2, -1, 0, 1, 2], "format": "d"}},
                      "y": {"field": "volume", "type": "quantitative", "title": "Volume (mm³)", "scale": {"domain": [7740, 16565], "nice": false, "zero": false}, "axis": {"values": [8000, 10000, 12000, 14000, 16000], "format": "d"}}
                    },
                    "layer": [
                      {"mark": {"type": "point", "filled": true, "opacity": 1, "size": 38}, "encoding": {
                        "color": {"field": "group", "type": "nominal", "scale": {"domain": ["CINP", "CWAD", "HC"], "range": ["#1b9e77", "#d95f02", "#7570b3"]}, "legend": {"orient": "bottom", "direction": "horizontal", "title": null, "labelFont": "Liberation Sans", "labelFontSize": 12, "labelColor": "#1a1a1a", "symbolSize": 40, "columnPadding": 3, "labelOffset": 1, "offset": 9, "padding": 0}},
                        "shape": {"field": "group", "type": "nominal", "scale": {"domain": ["CINP", "CWAD", "HC"], "range": ["circle", "triangle-up", "square"]}, "legend": {"orient": "bottom", "direction": "horizontal", "title": null, "labelFont": "Liberation Sans", "labelFontSize": 12, "labelColor": "#1a1a1a", "symbolSize": 40, "columnPadding": 3, "labelOffset": 1, "offset": 9, "padding": 0}}
                      }},
                      {"transform": [{"regression": "volume", "on": "score", "groupby": ["group"]}], "mark": {"type": "line", "strokeWidth": 1.2}, "encoding": {
                        "stroke": {"field": "group", "type": "nominal", "scale": {"domain": ["CINP", "CWAD", "HC"], "range": ["#1b9e77", "#d95f02", "#7570b3"]}, "legend": null}
                      }},
                      {"transform": [{"regression": "volume", "on": "score"}], "mark": {"type": "line", "strokeWidth": 1.3, "color": "black"}, "encoding": {}}
                    ]
                  }
                ]}
              ]
            }
          ]
        }
      ]
    }
  ]
}
